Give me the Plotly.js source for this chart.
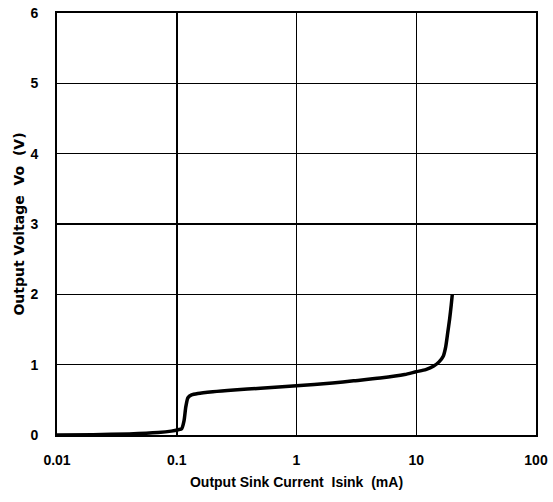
<!DOCTYPE html>
<html>
<head>
<meta charset="utf-8">
<script src="https://cdn.plot.ly/plotly-3.0.1.min.js"></script>
<style>html,body{margin:0;padding:0;background:#fff;}#chart{width:553px;height:502px;}</style>
</head>
<body>
<div id="chart"></div>
<script>
const sinkCurrent = [0.01, 0.02, 0.04, 0.07, 0.09, 0.103, 0.11, 0.115, 0.119, 0.124, 0.133, 0.15, 0.2, 0.3, 0.5, 1, 2, 3, 5, 8, 10, 12, 14, 15.5, 16.8, 17.6, 18.3, 19, 19.6, 20];
const outputVoltage = [0.0, 0.005, 0.015, 0.035, 0.055, 0.075, 0.09, 0.2, 0.4, 0.53, 0.57, 0.59, 0.615, 0.64, 0.665, 0.7, 0.74, 0.77, 0.81, 0.86, 0.9, 0.93, 0.98, 1.04, 1.12, 1.25, 1.45, 1.65, 1.85, 2.0];
const xTickVals = [0.01, 0.1, 1, 10, 100];
const xTickText = ["0.01", "0.1", "1", "10", "100"];
const yTickVals = [0, 1, 2, 3, 4, 5, 6];

const fontFam = '"Liberation Sans", Arial, sans-serif';

Plotly.newPlot('chart', [{
  x: sinkCurrent,
  y: outputVoltage,
  type: 'scatter',
  mode: 'lines',
  line: {color: '#000', width: 3.5, shape: 'spline', smoothing: 0.6},
  hoverinfo: 'none'
}], {
  width: 553, height: 502,
  margin: {l: 57, r: 17, t: 13, b: 67},
  paper_bgcolor: '#fff', plot_bgcolor: '#fff',
  showlegend: false,
  xaxis: {
    type: 'log', range: [-2, 2],
    tickvals: xTickVals, ticktext: xTickText,
    showgrid: true, gridcolor: '#000', gridwidth: 1.5,
    showline: true, linecolor: '#000', linewidth: 2, mirror: true,
    ticks: '', zeroline: false,
    ticklabelstandoff: 11,
    tickfont: {family: fontFam, size: 14, color: '#000', weight: 'bold'},
    title: {text: 'Output Sink Current  Isink  (mA)', standoff: 10,
      font: {family: fontFam, size: 14, color: '#000', weight: 'bold'}}
  },
  yaxis: {
    range: [0, 6],
    tickvals: yTickVals,
    showgrid: true, gridcolor: '#000', gridwidth: 1.5,
    showline: true, linecolor: '#000', linewidth: 2, mirror: true,
    ticks: '', zeroline: false,
    ticklabelstandoff: 14,
    tickfont: {family: fontFam, size: 14, color: '#000', weight: 'bold'},
    title: {text: 'Output Voltage  Vo  (V)', standoff: 3,
      font: {family: '"DejaVu Sans", sans-serif', size: 14, color: '#000', weight: 'bold'}}
  }
}, {staticPlot: true, displayModeBar: false});
</script>
</body>
</html>
